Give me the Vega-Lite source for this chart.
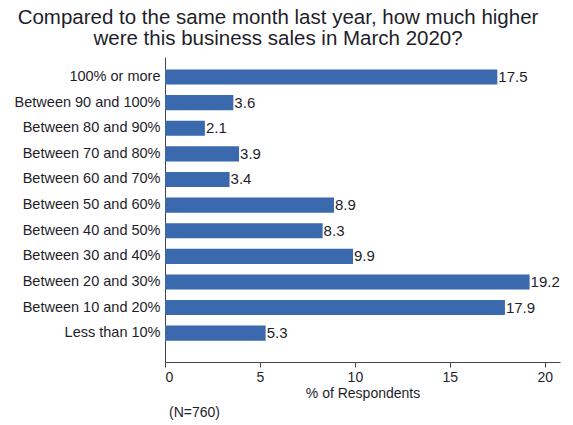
{
  "$schema": "https://vega.github.io/schema/vega-lite/v6.json",
  "background": "white",
  "padding": {"left": 14, "right": 5, "top": 7, "bottom": 2},
  "title": {
    "text": ["Compared to the same month last year, how much higher", "were this business sales in March 2020?"],
    "font": "Liberation Sans",
    "fontSize": 20.5,
    "fontWeight": "normal",
    "color": "#1e1e2a",
    "lineHeight": 21,
    "anchor": "middle",
    "frame": "bounds",
    "dx": -9,
    "offset": 8
  },
  "config": {
    "view": {"stroke": null},
    "font": "Liberation Sans",
    "concat": {"spacing": 0}
  },
  "vconcat": [
    {
      "width": 395,
      "height": 305,
      "title": {
        "text": "(N=760)",
        "orient": "bottom",
        "anchor": "start",
        "frame": "group",
        "dx": 4,
        "font": "Liberation Sans",
        "fontSize": 14,
        "fontWeight": "normal",
        "color": "#1e1e2a",
        "offset": 6
      },
      "data": {
        "values": [
          {"category": "100% or more", "pct": 17.5},
          {"category": "Between 90 and 100%", "pct": 3.6},
          {"category": "Between 80 and 90%", "pct": 2.1},
          {"category": "Between 70 and 80%", "pct": 3.9},
          {"category": "Between 60 and 70%", "pct": 3.4},
          {"category": "Between 50 and 60%", "pct": 8.9},
          {"category": "Between 40 and 50%", "pct": 8.3},
          {"category": "Between 30 and 40%", "pct": 9.9},
          {"category": "Between 20 and 30%", "pct": 19.2},
          {"category": "Between 10 and 20%", "pct": 17.9},
          {"category": "Less than 10%", "pct": 5.3}
        ]
      },
      "encoding": {
        "y": {
          "field": "category",
          "type": "nominal",
          "sort": null,
          "scale": {"paddingInner": 0.41, "paddingOuter": 0.66, "align": 0.37},
          "axis": {
            "title": null,
            "labelFont": "Liberation Sans",
            "labelFontSize": 14.5,
            "labelColor": "#1e1e2a",
            "labelPadding": 5,
            "ticks": false,
            "domainColor": "#444",
            "labelLimit": 300
          }
        },
        "x": {
          "field": "pct",
          "type": "quantitative",
          "scale": {"domain": [0, 20.8], "nice": false},
          "axis": {
            "title": "% of Respondents",
            "titleFont": "Liberation Sans",
            "titleFontSize": 14,
            "titleFontWeight": "normal",
            "titleColor": "#1e1e2a",
            "titlePadding": 2,
            "values": [0, 5, 10, 15, 20],
            "labelFont": "Liberation Sans",
            "labelFontSize": 14,
            "labelColor": "#1e1e2a",
            "labelPadding": 3,
            "tickColor": "#444",
            "tickSize": 5,
            "domainColor": "#444",
            "grid": false
          }
        }
      },
      "layer": [
        {"mark": {"type": "bar", "color": "#3a69ad"}},
        {
          "mark": {"type": "text", "align": "left", "baseline": "middle", "dx": 1, "fontSize": 15, "color": "#1e1e2a", "font": "Liberation Sans"},
          "encoding": {"text": {"field": "pct", "type": "quantitative", "format": ".1f"}}
        }
      ]
    }
  ]
}
